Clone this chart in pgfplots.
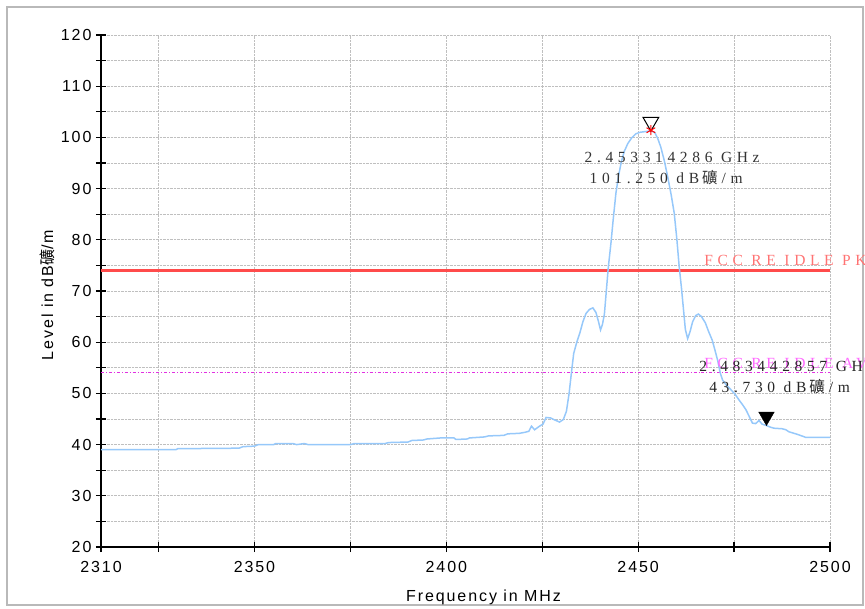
\documentclass[border=0pt]{standalone}
\usepackage{fontspec}
\usepackage{pgfplots}
\pgfplotsset{compat=1.18}
\setmainfont{Liberation Sans}
\newfontfamily\axfont[LetterSpace=12]{Liberation Sans}
\newfontfamily\mkfont[LetterSpace=30]{Liberation Serif}
\newfontfamily\cjk{Noto Sans CJK SC}
\definecolor{trace}{RGB}{150,200,250}
\definecolor{pklim}{RGB}{255,75,75}
\definecolor{pktxt}{RGB}{255,115,115}
\definecolor{avlim}{RGB}{225,50,225}
\definecolor{avtxt}{RGB}{255,105,255}
\newcommand{\axf}{\axfont\fontsize{16}{18}\selectfont}
\newcommand{\mkf}{\mkfont\fontsize{15.5}{18}\selectfont}
\newcommand{\kuang}{\hspace{3pt}{\cjk 礦}\hspace{4pt}}
\begin{document}
\begin{tikzpicture}[x=1pt,y=1pt]
\useasboundingbox (0,0) rectangle (865,608);
\clip (0,0) rectangle (865,608);
\draw[gray!55, line width=1.5pt] (7,3) rectangle (863,601);
\begin{axis}[
  at={(101pt,61pt)}, anchor=south west,
  width=729pt, height=512pt, scale only axis,
  xmin=2310, xmax=2500, ymin=20, ymax=120,
  axis x line*=bottom, axis y line*=left,
  axis line style={line width=1.6pt, black},
  xtick={2310,2350,2400,2450,2500},
  minor xtick={2325,2375,2425,2475},
  ytick={20,30,...,120},
  minor ytick={25,35,...,115},
  tick align=center,
  major tick length=10pt, minor tick length=10pt,
  tick style={black, line width=1.3pt},
  grid=both,
  major grid style={densely dotted, gray!50, line width=0.8pt},
  minor grid style={densely dotted, gray!50, line width=0.8pt},
  /pgf/number format/assume math mode=true,
  /pgf/number format/1000 sep={},
  ticklabel style={font=\axf},
  xticklabel style={yshift=-6pt},
  yticklabel style={xshift=-1pt},
  xlabel={Frequency in MHz},
  ylabel={Level in dB{\cjk 礦}/m},
  every axis x label/.style={at={([xshift=18pt,yshift=-50pt]axis description cs:0.5,0)}, anchor=center, font=\axf},
  every axis y label/.style={at={([xshift=-54pt,yshift=-4pt]axis description cs:0,0.5)}, anchor=center, rotate=90, font=\axf},
  clip=false,
]
% limit lines
\addplot[pklim, line width=2.8pt, no markers] coordinates {(2310,74) (2500,74)};
\addplot[avlim, line width=0.9pt, dash dot, no markers] coordinates {(2310,54) (2500,54)};
% measured trace
\addplot[trace, line width=1.5pt, no markers] coordinates {
(2310,39.0) (2320,39.0) (2329.5,39.0) (2330,39.2) (2346,39.3) (2347,39.6)
(2350,39.7) (2351,40.0) (2355,40.0) (2355.5,40.2) (2360,40.2) (2361,40.0)
(2363,40.2) (2364,40.0) (2375,40.0) (2376,40.2) (2384,40.2) (2385,40.4)
(2390,40.5) (2391,40.8) (2394,40.9) (2395,41.1) (2398.5,41.3) (2402,41.3)
(2402.5,41.0) (2405.5,41.1) (2406,41.3) (2410,41.5) (2411,41.7) (2415,41.8)
(2416,42.1) (2419,42.2) (2420.5,42.4) (2421.5,42.6) (2422.2,43.6) (2423,42.9)
(2424.3,43.6) (2425.2,44.0) (2426,45.3) (2427.2,45.2) (2428,44.9) (2429.5,44.4)
(2430.5,44.9) (2431.3,46.5) (2432,50.0) (2432.6,54.0) (2433.2,57.8) (2434,60.0)
(2434.8,61.8) (2435.6,64.0) (2436.4,65.6) (2437.3,66.4) (2438.2,66.7) (2439.0,65.8)
(2439.6,64.2) (2440.2,62.4) (2440.7,63.5) (2441.2,65.5) (2441.7,70.0) (2442.2,74.5)
(2442.9,79.3) (2443.5,84.0) (2444.2,89.1) (2444.9,92.5) (2445.6,95.2) (2446.4,97.3)
(2447.3,98.8) (2448.3,99.9) (2449.4,100.7) (2450.5,101.0) (2451.5,101.1) (2452.5,101.2)
(2453.3,101.25) (2454.3,101.0) (2455.1,99.8) (2455.9,98.1) (2456.8,95.5) (2457.7,92.3)
(2458.6,88.8) (2459.4,85.2) (2460.1,80.0) (2460.7,74.7) (2461.3,70.5) (2461.8,66.5)
(2462.3,62.5) (2462.9,60.7) (2463.5,62.0) (2464.2,64.0) (2465.0,65.2) (2465.7,65.5)
(2466.5,65.0) (2467.5,63.8) (2468.3,62.2) (2469.3,60.4) (2470.0,58.5) (2470.7,56.5)
(2471.4,54.0) (2472.0,52.6) (2473.0,51.6) (2474.2,50.7) (2475.3,49.8) (2476.3,48.7)
(2477.2,47.8) (2478.1,46.8) (2479.0,45.4) (2479.8,44.2) (2480.6,44.1) (2481.5,44.7)
(2482.3,44.0) (2483.4,43.73) (2484.5,43.4) (2485.4,43.2) (2487.5,43.1) (2488.5,42.9)
(2489.3,42.5) (2490.2,42.3) (2491.5,42.0) (2493.0,41.6) (2493.7,41.4) (2496,41.4)
(2500,41.4)
};
% markers
\addplot[only marks, mark=triangle, mark size=9pt, mark options={black, fill=white, line width=1pt, yshift=9pt, rotate=180}] coordinates {(2453.314286,101.25)};
\addplot[only marks, mark=asterisk, mark size=5pt, mark options={red, line width=1pt}] coordinates {(2453.314286,101.4)};
\addplot[only marks, mark=triangle*, mark size=9pt, mark options={black, fill=black, yshift=9pt, rotate=180}] coordinates {(2483.442857,43.73)};
% texts
\node[anchor=west, text=pktxt, font=\mkf, inner sep=0pt] at (axis cs:2467.2,76.05) {FCC RE IDLE PK};
\node[anchor=west, text=avtxt, font=\mkf, inner sep=0pt] at (axis cs:2467.2,55.9) {FCC RE IDLE AV};
\node[anchor=west, text=black!80, font=\mkf, inner sep=0pt] at (axis cs:2436.0,96.0) {2.453314286 GHz};
\node[anchor=west, text=black!80, font=\mkf, inner sep=0pt] at (axis cs:2437.3,92.1) {101.250 dB\kuang/m};
\node[anchor=west, text=black!85, font=\mkf, inner sep=0pt] at (axis cs:2465.9,55.2) {2.483442857 GHz};
\node[anchor=west, text=black!85, font=\mkf, inner sep=0pt] at (axis cs:2468.5,51.25) {43.730 dB\kuang/m};
\end{axis}
\end{tikzpicture}
\end{document}
